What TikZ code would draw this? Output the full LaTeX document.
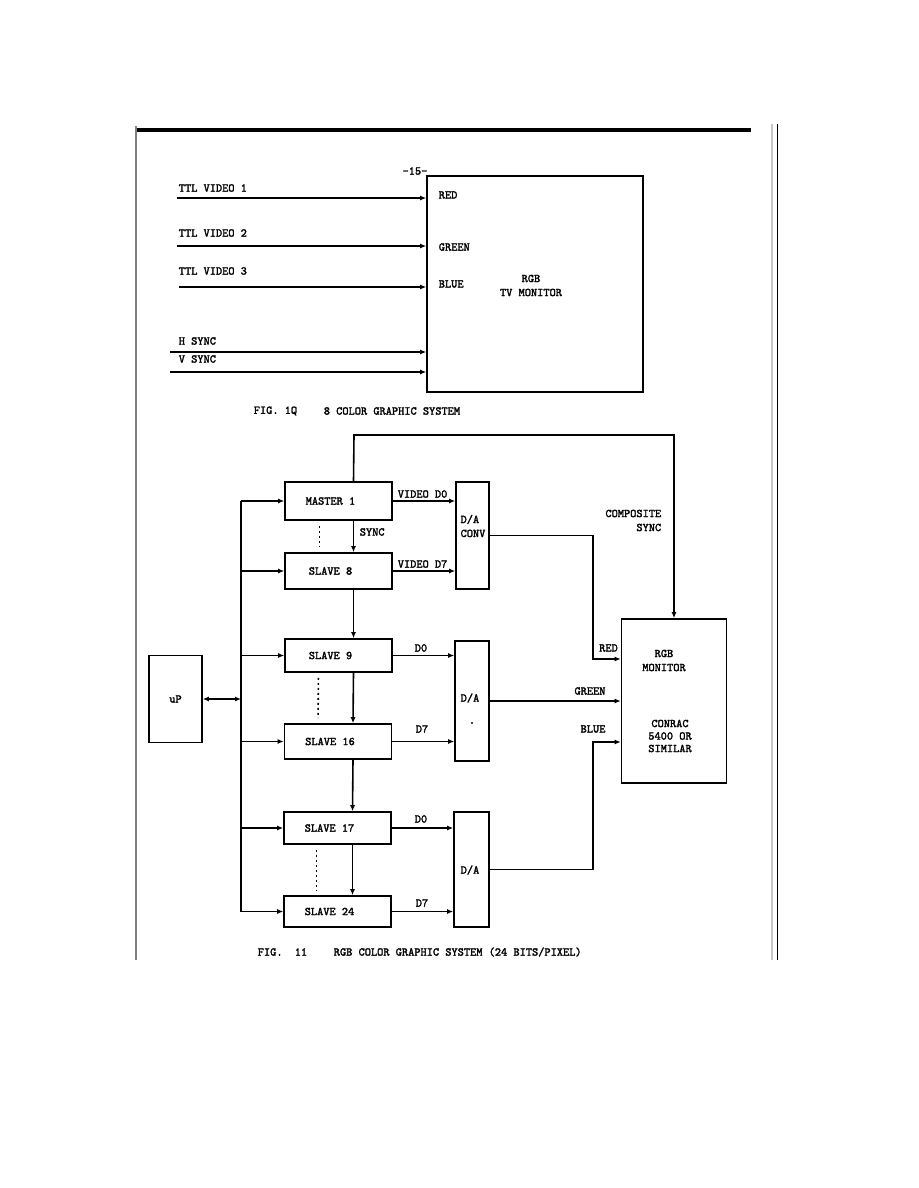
\documentclass[tikz,border=0pt]{standalone}
\usepackage{fontspec}
\setmonofont{lmmono10-regular.otf}[BoldFont=lmmono10-regular.otf,BoldFeatures={FakeBold=2}]
\usetikzlibrary{arrows.meta,positioning}
\begin{document}
\begin{tikzpicture}[x=1pt,y=-1pt,font=\fontsize{11.8}{14}\selectfont\ttfamily\bfseries,
  >={Latex[length=6pt,width=5pt]},line width=1.6pt,
  b/.style={draw,minimum width=107pt,minimum height=#1,inner sep=0pt},
  d/.style={draw,inner sep=0pt},
  t/.style={inner sep=0pt,anchor=west},
  lb/.style={inner sep=0pt,xshift=-8pt},
  dots/.style={dash pattern=on 2pt off 3pt,shorten <=5pt,shorten >=5pt}]
\useasboundingbox (0,0) rectangle (918,1188);
\fill[white] (0,0) rectangle (918,1188);
% page edges
\fill (136,128) rectangle (751,132);
\draw[gray,line width=1.2pt] (136,126) -- (136,960);
\draw[gray!45,line width=1.6pt] (772,124) -- (772,960);
\draw[line width=1pt] (777,124) -- (777,960);
% fig 10
\node[inner sep=0pt] (pg) at (415,171) {-15-};
\node[d,minimum width=216pt,minimum height=216pt] (tv) at (535,284) {};
\node[t] at (438,195) {RED};
\node[t] at (438,247) {GREEN};
\node[t] at (438,284) {BLUE};
\node[align=center,inner sep=0pt] (tvl) at (531,285.5) {RGB\\TV MONITOR};
\foreach \n/\x/\y/\ly/\s in {v1/177/198/188/TTL VIDEO 1,v2/177/246/233/TTL VIDEO 2,
  v3/179/287/271/TTL VIDEO 3,hs/170/352/341/H SYNC,vs/170/372/359/V SYNC}{
  \coordinate (\n) at (\x,\y);
  \draw[->] (\n) -- (\n -| tv.west);
  \node[t] at (178,\ly) {\s};}
\node[t] (f10) at (253,411) {FIG. 1Q};
\node[t] at (323,411) {8 COLOR GRAPHIC SYSTEM};
% fig 11
\node[b=38pt,label={[lb]center:MASTER 1}] (master) at (338.5,501) {};
\node[b=36pt,label={[lb]center:SLAVE 8}] (s8) at (338.5,571) {};
\node[b=33pt,label={[lb]center:SLAVE 9}] (s9) at (338.5,655.5) {};
\node[b=35pt,label={[lb]center:SLAVE 16}] (s16) at (338,741.5) {};
\node[b=32pt,label={[lb]center:SLAVE 17}] (s17) at (337.5,828) {};
\node[b=31pt,label={[lb]center:SLAVE 24}] (s24) at (337.5,911.5) {};
\node[d,minimum width=53pt,minimum height=87pt] (up) at (175.5,699) {uP};
\node[d,minimum width=33pt,minimum height=107pt] (dac1) at (472.5,535.5) {};
\node[d,minimum width=34pt,minimum height=120pt] (dac2) at (472,701) {};
\node[d,minimum width=35pt,minimum height=115pt] (dac3) at (471.5,869.5) {};
\node[d,minimum width=105pt,minimum height=164pt] (rgb) at (674,701) {};
\node[align=left,inner sep=0pt] at (473,526) {D/A\\CONV};
\node[inner sep=0pt] at (470,698) {D/A};
\node[circle,fill,inner sep=0.8pt] (dot) at (472,723) {};
\node[inner sep=0pt] at (470,870) {D/A};
\node[align=center,inner sep=0pt] at (664,660.5) {RGB\\MONITOR};
\node[align=center,inner sep=0pt,font=\fontsize{11.8}{12.5}\selectfont\ttfamily\bfseries] at (670,736) {CONRAC\\5400 OR\\SIMILAR};
% bus
\coordinate (bus) at (241,0);
\draw (master.west -| bus) -- (s24.west -| bus);
\foreach \n in {master,s8,s9,s16,s17,s24} \draw[->] (\n.west -| bus) -- (\n.west);
\draw[<->] (up.east) -- (up.east -| bus);
% chain
\foreach \x/\y in {master/s8,s8/s9,s9/s16,s16/s17,s17/s24}
  \draw[->] ([xshift=15pt]\x.south) -- ([xshift=15pt]\y.north);
\draw[dots] ([xshift=-19pt]master.south) -- ([xshift=-19pt]s8.north);
\draw[dots] ([xshift=-20pt]s9.south) -- ([xshift=-20pt]s16.north);
\draw[dots] ([xshift=-21pt]s17.south) -- ([xshift=-21pt]s24.north);
\node[t] at (359,532) {SYNC};
% video
\foreach \x/\y in {master/dac1,s8/dac1,s9/dac2,s16/dac2,s17/dac3,s24/dac3}
  \draw[->] (\x.east) -- (\x.east -| \y.west);
\node[t] at (397,494) {VIDEO D0};
\node[t] at (397,564) {VIDEO D7};
\node[inner sep=0pt] at (421,648) {D0};
\node[inner sep=0pt] at (422,729) {D7};
\node[inner sep=0pt] at (421,819) {D0};
\node[inner sep=0pt] at (422,903) {D7};
% to monitor
\coordinate (cs) at (354,435);
\draw[->] ([xshift=15pt]master.north) -- (cs) -| (rgb.north);
\node[align=right,inner sep=0pt,anchor=east] at (662,520.5) {COMPOSITE\\SYNC};
\coordinate (rk) at (593,659);
\draw[->] (dac1.east) -| (rk) -- (rk -| rgb.west);
\draw[->] (dac2.east) -- (dac2.east -| rgb.west);
\coordinate (bk) at (593,742);
\draw[->] (dac3.east) -| (bk) -- (bk -| rgb.west);
\node[inner sep=0pt] at (608.5,648) {RED};
\node[inner sep=0pt] at (590,691) {GREEN};
\node[inner sep=0pt] at (593,729) {BLUE};
\node[t] (f11) at (257,952) {FIG.};
\node[t] at (294,952) {11};
\node[t] at (333,952) {RGB COLOR GRAPHIC SYSTEM (24 BITS/PIXEL)};
\end{tikzpicture}
\end{document}
